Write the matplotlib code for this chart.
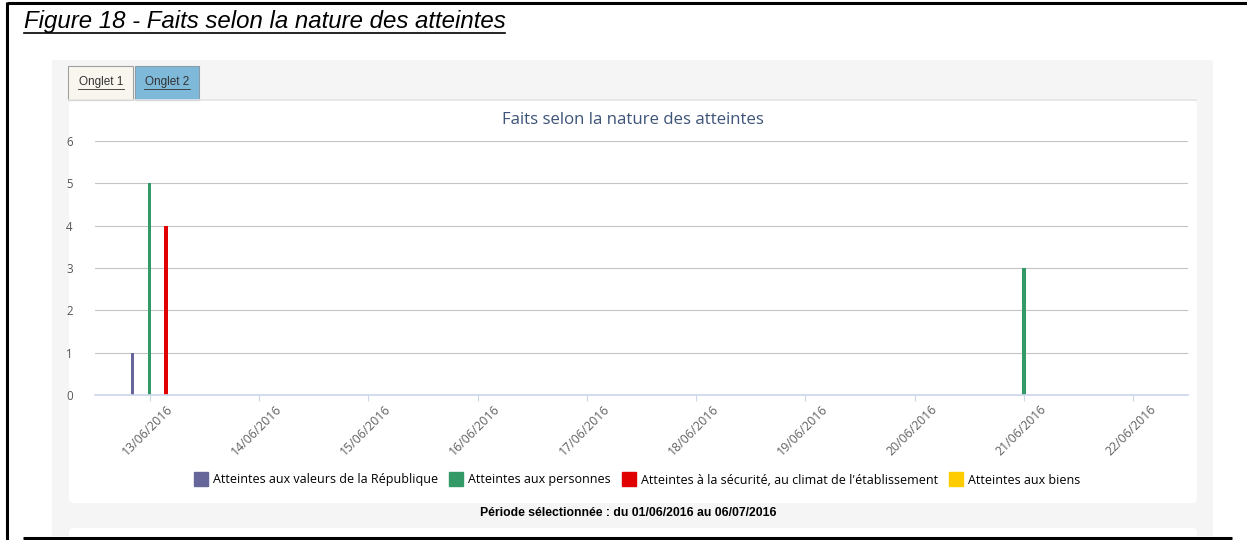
import matplotlib.pyplot as plt
import matplotlib.patches as mpatches
from matplotlib.lines import Line2D
from matplotlib.transforms import ScaledTranslation
import numpy as np

# Faits par jour, selon la nature des atteintes
dates = ["13/06/2016", "14/06/2016", "15/06/2016", "16/06/2016", "17/06/2016",
         "18/06/2016", "19/06/2016", "20/06/2016", "21/06/2016", "22/06/2016"]
series_names = ["Atteintes aux valeurs de la République",
                "Atteintes aux personnes",
                "Atteintes à la sécurité, au climat de l'établissement",
                "Atteintes aux biens"]
valeurs_republique = [1, 0, 0, 0, 0, 0, 0, 0, 0, 0]
personnes = [5, 0, 0, 0, 0, 0, 0, 0, 3, 0]
securite = [4, 0, 0, 0, 0, 0, 0, 0, 0, 0]
biens = [0, 0, 0, 0, 0, 0, 0, 0, 0, 0]
colors = ["#66669a", "#339966", "#e00000", "#ffcc00"]

W, H = 1247, 540
fig = plt.figure(figsize=(W / 100, H / 100), dpi=100)
fig.patch.set_facecolor("white")

# background layer in pixel coordinates
bg = fig.add_axes([0, 0, 1, 1])
bg.set_xlim(0, W)
bg.set_ylim(H, 0)
bg.axis("off")

# document frame
bg.plot([7, W], [2.5, 2.5], color="black", lw=2.2, solid_capstyle="butt")
bg.plot([7, 7], [1.5, H], color="black", lw=2.2, solid_capstyle="butt")
bg.plot([23, 1232], [537.5, 537.5], color="black", lw=2.2, solid_capstyle="butt")

bg.text(24, 28, "Figure 18 - Faits selon la nature des atteintes", fontsize=17.3,
        style="italic", family="Liberation Sans", color="black", va="baseline")
bg.plot([24, 505], [32.5, 32.5], color="black", lw=1.2)

# grey panel and cards
bg.add_patch(mpatches.Rectangle((52, 60), 1161, 476, facecolor="#f5f5f5", edgecolor="none"))
bg.add_patch(mpatches.FancyBboxPatch((69, 100), 1128, 403, boxstyle="round,pad=0,rounding_size=5",
                                     facecolor="white", edgecolor="none"))
bg.add_patch(mpatches.FancyBboxPatch((69, 528), 1128, 30, boxstyle="round,pad=0,rounding_size=5",
                                     facecolor="white", edgecolor="none"))
bg.plot([69, 1196], [99.5, 99.5], color="#e4e4e4", lw=1.2)

# tabs
bg.add_patch(mpatches.Rectangle((68, 66), 65, 34, facecolor="#f9f6f0", edgecolor="#a0a0a0", lw=0.8))
bg.add_patch(mpatches.Rectangle((135, 66), 64, 34, facecolor="#7fb9da", edgecolor="#8c9ba8", lw=0.8))
for cx, lab in [(101, "Onglet 1"), (167, "Onglet 2")]:
    bg.text(cx, 82, lab, fontsize=8.5, color="#333333", ha="center", va="center", family="Liberation Sans")
    bg.plot([cx - 23, cx + 23], [88.5, 88.5], color="#333333", lw=0.6)

bg.text(633, 120, "Faits selon la nature des atteintes", fontsize=12.1, color="#3d5478",
        ha="center", va="center", family="Open Sans")

bg.text(628, 513, "Période sélectionnée : du 01/06/2016 au 06/07/2016", fontsize=8.8,
        fontweight="bold", color="black", ha="center", va="center",
        family=["Liberation Sans Narrow", "Liberation Sans"])

# chart axes
left, right, top, bottom = 95, 1188, 141, 395
ax = fig.add_axes([left / W, 1 - bottom / H, (right - left) / W, (bottom - top) / H])
ax.set_facecolor("none")

x = np.arange(len(dates))
all_series = [valeurs_republique, personnes, securite, biens]
offsets = [-0.155, 0.0, 0.15, 0.3]
for vals, off, col, name in zip(all_series, offsets, colors, series_names):
    ax.bar(x + off, vals, width=0.03, color=col, label=name, zorder=3)

ax.set_xlim(-0.5, len(dates) - 0.5)
ax.set_ylim(0, 6)
ax.set_yticks(range(0, 7))
ax.yaxis.grid(True, color="#c4c4c4", lw=0.8)
ax.set_axisbelow(True)
for s in ["top", "right", "left"]:
    ax.spines[s].set_visible(False)
ax.spines["bottom"].set_color("#ccd6eb")
ax.spines["bottom"].set_linewidth(1.2)
ax.spines["bottom"].set_zorder(4)

ax.tick_params(axis="y", length=0, pad=16, labelsize=8.3, labelcolor="#555555")
ax.tick_params(axis="x", length=4, width=0.8, color="#ccd6eb", labelsize=8.8, labelcolor="#606060", pad=2)
ax.set_xticks(x)
ax.set_xticklabels(dates, rotation=45, ha="right", rotation_mode="anchor", family="Open Sans")
for lab in ax.get_yticklabels():
    lab.set_family("Open Sans")
for lab in ax.get_xticklabels():
    lab.set_transform(lab.get_transform() + ScaledTranslation(0.16, 0.01, fig.dpi_scale_trans))

handles = [Line2D([0], [0], marker="s", linestyle="none", markersize=9.5, markerfacecolor=c,
                  markeredgecolor=c) for c in colors]
fig.legend(handles, series_names, loc="center", bbox_to_anchor=(638 / W, 1 - 480 / H), ncol=4,
           frameon=False, handlelength=0.9, handletextpad=0.5, columnspacing=1.0,
           prop={"family": "Open Sans", "size": 9})

fig.savefig("out.png", dpi=100)
